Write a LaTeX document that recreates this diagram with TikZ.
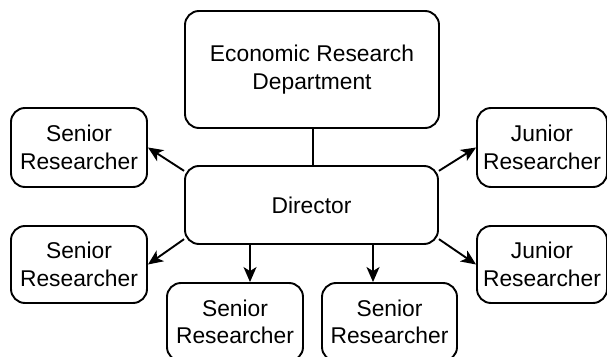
\documentclass[tikz,border=0pt]{standalone}
\usepackage{fontspec}
\setmainfont{Liberation Sans}
\usetikzlibrary{arrows.meta}
\begin{document}
\begin{tikzpicture}[x=1pt,y=1pt,
  box/.style={draw, line width=1.9pt, rounded corners=14pt, align=center,
    inner sep=0pt, font=\fontsize{22.8}{27.5}\selectfont},
  link/.style={line width=1.9pt},
  arrowlink/.style={link, -{Stealth[length=15pt,width=13pt,inset=4pt]}}]
  \useasboundingbox (0,0) rectangle (607,356);
  \begin{scope}
    \clip (0,0) rectangle (607,356);
    % department and director
    \node[box, minimum width=254, minimum height=117] (dept) at (312,286.5)
      {Economic Research\\Department};
    \node[box, minimum width=253, minimum height=78] (dir) at (311.5,151)
      {Director};
    % left column
    \node[box, minimum width=136, minimum height=79] (s1) at (79,208.5)
      {Senior\\Researcher};
    \node[box, minimum width=136, minimum height=77] (s2) at (79,91.5)
      {Senior\\Researcher};
    % right column
    \node[box, minimum width=130, minimum height=79] (j1) at (542,208.5)
      {Junior\\Researcher};
    \node[box, minimum width=130, minimum height=77] (j2) at (542,91.5)
      {Junior\\Researcher};
    % bottom row
    \node[box, minimum width=136, minimum height=78] (s3) at (235,34)
      {Senior\\Researcher};
    \node[box, minimum width=135, minimum height=78] (s4) at (389.5,34)
      {Senior\\Researcher};
    % connectors
    \coordinate (t) at ([xshift=1pt]dept.south);
    \draw[link] (t) -- (t |- dir.north);
    \draw[arrowlink] (dir.165) -- (s1.east);
    \draw[arrowlink] (dir.195) -- (s2.east);
    \draw[arrowlink] (dir.15) -- (j1.west);
    \draw[arrowlink] (dir.-15) -- (j2.west);
    \coordinate (b1) at ([xshift=-61.5pt]dir.south);
    \coordinate (b2) at ([xshift=61.5pt]dir.south);
    \draw[arrowlink] (b1) -- (b1 |- s3.north);
    \draw[arrowlink] (b2) -- (b2 |- s4.north);
  \end{scope}
\end{tikzpicture}
\end{document}
